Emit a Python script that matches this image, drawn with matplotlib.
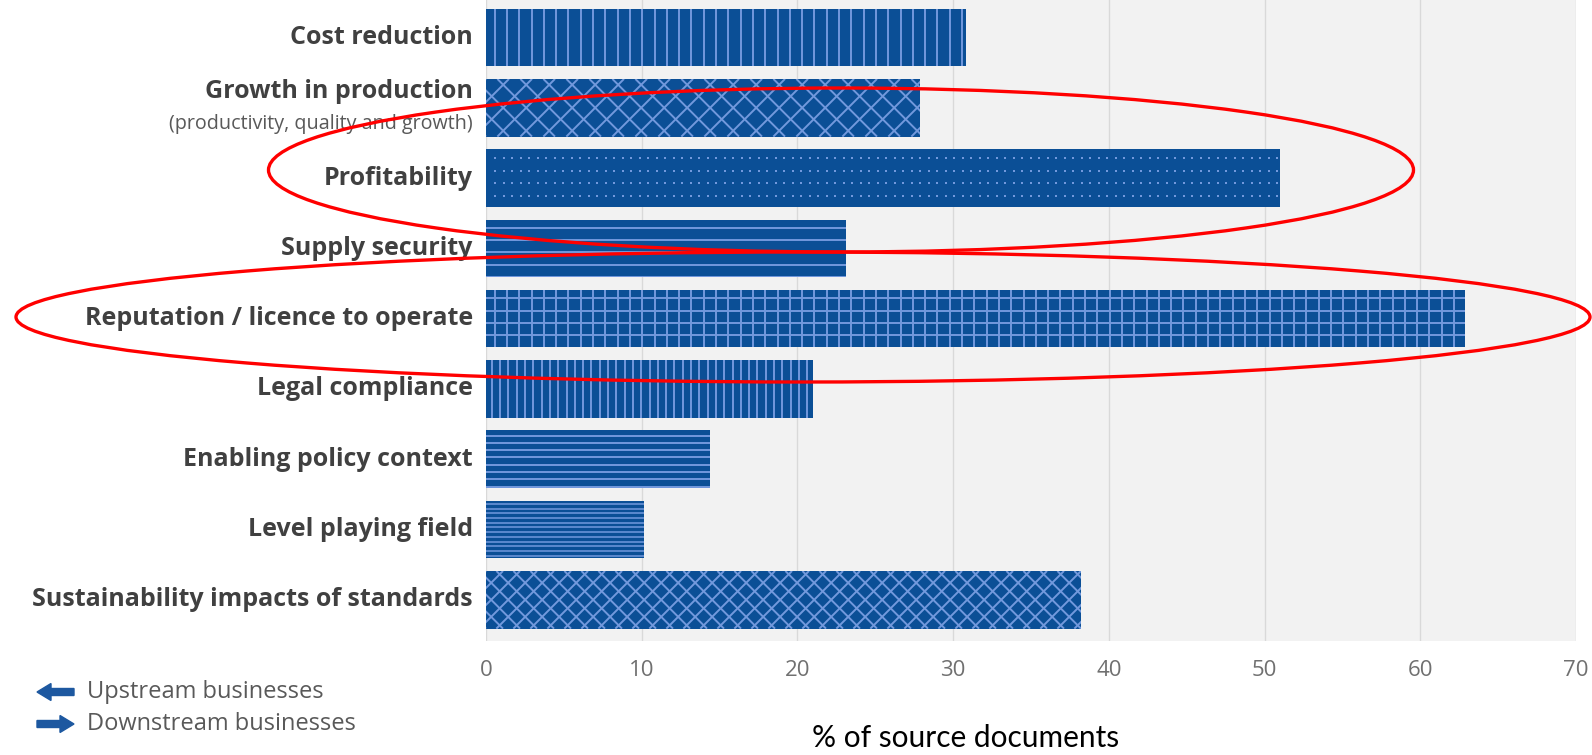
import numpy as np
import matplotlib.pyplot as plt
from matplotlib.collections import LineCollection
from matplotlib.patches import Ellipse, FancyArrow
from matplotlib.transforms import IdentityTransform

# data
categories = ["Cost reduction", "Growth in production", "Profitability",
              "Supply security", "Reputation / licence to operate",
              "Legal compliance", "Enabling policy context",
              "Level playing field", "Sustainability impacts of standards"]
values = [30.8, 27.9, 51.0, 23.1, 62.9, 21.0, 14.4, 10.15, 38.2]
subtitle = "(productivity, quality and growth)"
xticks = [0, 10, 20, 30, 40, 50, 60, 70]
legend_labels = ["Upstream businesses", "Downstream businesses"]
xlabel = "% of source documents"

# hatch style per bar: (kind, spacing in px)
patterns = [("v", 12.3), ("x", 23), ("dots", 8.5), ("h", 12.2), ("grid", 12.3),
            ("v", 8.3), ("h", 7.3), ("h", 4.7), ("x", 17)]

BLUE = "#0b4f96"
HATCH = "#7299dd"
W, H = 1592, 755

fig = plt.figure(figsize=(W / 100, H / 100), dpi=100)
ax = fig.add_axes([486 / W, 114 / H, 1090 / W, 641 / H])
ax.set_facecolor("#f2f2f2")

y = np.arange(len(categories))
bars = ax.barh(y, values, height=0.82, color=BLUE, zorder=2)
ax.set_xlim(0, 70)
ax.set_ylim(len(categories) - 0.414, -0.533)
ax.set_xticks(xticks)
ax.set_yticks([])
ax.grid(axis="x", color="#d9d9d9", lw=1, zorder=1)
ax.set_axisbelow(True)
for s in ax.spines.values():
    s.set_visible(False)
ax.tick_params(axis="x", length=0, pad=13.5, labelsize=16, labelcolor="#707070")
for t in ax.get_xticklabels():
    t.set_family("Open Sans")


def add_hatch(ax, bar, kind, step, lw=1.4):
    pts = ax.transData.transform([(bar.get_x(), bar.get_y()),
                                  (bar.get_x() + bar.get_width(), bar.get_y() + bar.get_height())])
    x0, x1 = sorted(pts[:, 0])
    y0, y1 = sorted(pts[:, 1])
    segs = []
    if kind in ("v", "grid"):
        for x in np.arange(x0 + step * 0.7, x1, step):
            segs.append([(x, y0), (x, y1)])
    if kind in ("h", "grid"):
        for yy in np.arange(y1 - step * 0.7, y0, -step):
            segs.append([(x0, yy), (x1, yy)])
    if kind == "x":
        span = y1 - y0
        for c in np.arange(x0 - span, x1 + span, step):
            segs.append([(c, y0), (c + span, y1)])
            segs.append([(c, y1), (c + span, y0)])
    if kind == "dots":
        xs = np.arange(x0 + 9, x1 - 2, step)
        ys = np.arange(y1 - 9, y0, -12.5)
        gx, gy = np.meshgrid(xs, ys)
        ln, = ax.plot(gx.ravel(), gy.ravel(), "s", ms=2.1, mew=0, color=HATCH,
                      transform=IdentityTransform(), zorder=3)
        ln.set_clip_path(bar)
        return
    lc = LineCollection(segs, colors=HATCH, linewidths=lw,
                        transform=IdentityTransform(), zorder=3)
    ax.add_collection(lc, autolim=False)
    lc.set_clip_path(bar)  # after add_collection, which would reset it


for bar, (kind, step) in zip(bars, patterns):
    add_hatch(ax, bar, kind, step, lw=1.1 if step < 6 else 1.4)

# category labels
ytr = ax.get_yaxis_transform()
for i, name in enumerate(categories):
    dy = 11.5 if i == 1 else 0
    ax.annotate(name, xy=(0, i), xycoords=ytr, xytext=(-9.5, dy),
                textcoords="offset points", ha="right", va="center",
                fontsize=18, fontweight="bold", color="#404040", family="Open Sans")
ax.annotate(subtitle, xy=(0, 1), xycoords=ytr, xytext=(-9.5, -12),
            textcoords="offset points", ha="right", va="center",
            fontsize=14.2, color="#595959", family="Open Sans")

fig.text(966 / W, 1 - 738 / H, xlabel, ha="center", va="center",
         fontsize=21.5, color="black", family="Lato")

# overlay in pixel coords for the annotations
ov = fig.add_axes([0, 0, 1, 1], zorder=10)
ov.set_xlim(0, W)
ov.set_ylim(H, 0)
ov.axis("off")
ov.patch.set_visible(False)
ov.add_patch(Ellipse((841, 170), 1145, 164, fill=False, ec="#ff0000", lw=2.4))
ov.add_patch(Ellipse((803, 317), 1574, 130, fill=False, ec="#ff0000", lw=2.4))

ov.add_patch(FancyArrow(74, 692, -37, 0, width=7, head_width=17, head_length=14,
                        length_includes_head=True, color="#1d58a0"))
ov.add_patch(FancyArrow(37, 724, 37, 0, width=7, head_width=17, head_length=14,
                        length_includes_head=True, color="#1d58a0"))
for lab, yy in zip(legend_labels, [692, 724]):
    ov.text(87, yy, lab, ha="left", va="center", fontsize=17, color="#595959",
            family="Open Sans")

fig.savefig("out.png", dpi=100)
